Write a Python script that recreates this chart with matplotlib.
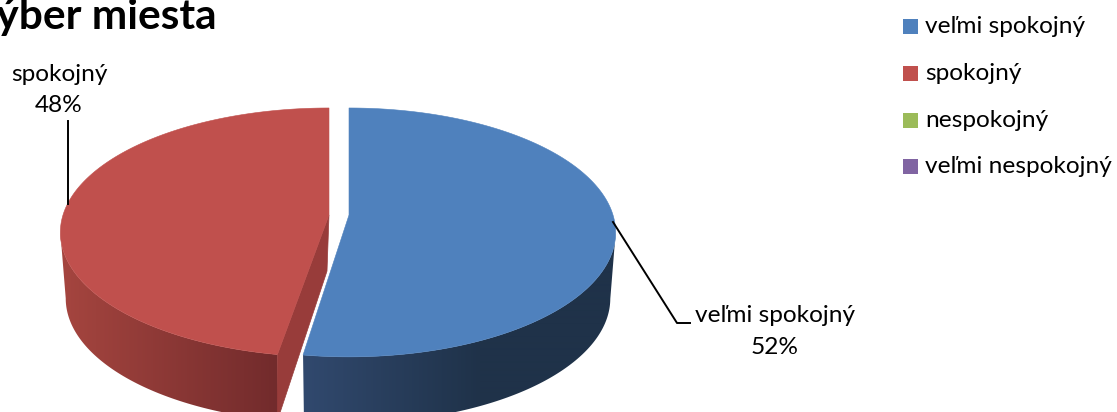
import numpy as np
import matplotlib
matplotlib.use("Agg")
import matplotlib.pyplot as plt
from matplotlib.patches import Polygon, Rectangle

plt.rcParams["font.family"] = ["Lato", "DejaVu Sans"]

# data
categories = ["veľmi spokojný", "spokojný", "nespokojný", "veľmi nespokojný"]
values = [52, 48, 0, 0]
top_colors = ["#4F81BD", "#C0504D", "#9BBB59", "#8064A2"]

# wall shading: colour at the left / right end of the x range
wall_colors = {0: ("#31496E", "#1F3249", 304, 480), 1: ("#A5453F", "#722B2C", 62, 277)}
inner_wall_color = "#983C3A"

# pie geometry in pixels
center_x = [349, 329]
radius_x = [264, 266]
warp = [0.10, 0.17]
center_y = 215
radius_y = 122
persp = 0.14
depth = 66
bottom_scale = 0.98


def project(i, t, lower=False):
    """Map pie angles (clockwise from top) to picture coordinates."""
    t = t + warp[i] * np.sin(2 * t)
    u, v = np.sin(t), np.cos(t)
    w = 1 + persp * v
    scale = bottom_scale if lower else 1.0
    x = center_x[i] + scale * radius_x[i] * u / w
    y = center_y - radius_y * v / w + (depth if lower else 0)
    return x, y


fig = plt.figure(figsize=(11.17, 4.12), dpi=100)
ax = fig.add_axes([0, 0, 1, 1])

total = sum(values)
edges = np.concatenate([[0], np.cumsum(values)]) / total * 2 * np.pi

# red first, blue in front of it
for i in [1, 0]:
    t = np.linspace(edges[i], edges[i + 1], 240)
    cx = center_x[i]
    xt, yt = project(i, t)
    xb, yb = project(i, t, lower=True)

    if i == 1:
        # the cut face seen through the gap
        ax.add_patch(Polygon([(cx, center_y), (xt[0], yt[0]), (xt[0], yt[0] + depth),
                              (cx - 2, center_y + depth * 0.85)],
                             closed=True, fc=inner_wall_color, ec=inner_wall_color, lw=0.5))

    # only the front part of the rim has a visible wall
    if i == 0:
        front = np.arange(np.argmax(xt), len(t))
    else:
        front = np.arange(0, np.argmin(xt) + 1)

    # outer wall: horizontal gradient clipped to the wall outline
    c0, c1, x_left, x_right = wall_colors[i]
    wall = Polygon(np.column_stack([np.r_[xt[front], xb[front][::-1]], np.r_[yt[front], yb[front][::-1]]]),
                   closed=True, fc="none", ec="none", transform=ax.transData)
    ax.add_patch(wall)
    a = np.array(matplotlib.colors.to_rgb(c0))
    b = np.array(matplotlib.colors.to_rgb(c1))
    col_x = np.arange(0, 1117)
    f = np.clip((col_x - x_left) / (x_right - x_left), 0, 1)[None, :, None]
    im = ax.imshow(a + (b - a) * f, extent=(0, 1117, 412, 0), aspect="auto", interpolation="bilinear")
    im.set_clip_path(wall)

    ax.add_patch(Polygon(np.column_stack([np.r_[cx, xt], np.r_[center_y, yt]]),
                         closed=True, fc=top_colors[i], ec=top_colors[i], lw=0.4))

ax.set_xlim(0, 1117)
ax.set_ylim(412, 0)
ax.axis("off")

# leader lines
ax.plot([613, 677, 690], [222, 323, 323], color="black", lw=1.4, solid_joinstyle="round")
ax.plot([68, 68], [121, 204], color="black", lw=1.4)

# data labels
label_size = 17.6
ax.text(775, 316, categories[0], ha="center", va="center", fontsize=label_size)
ax.text(775, 347, f"{values[0]}%", ha="center", va="center", fontsize=label_size)
ax.text(59, 74, categories[1], ha="center", va="center", fontsize=label_size)
ax.text(59, 105, f"{values[1]}%", ha="center", va="center", fontsize=label_size)

# title runs off the left edge in the original
ax.text(217, 29, "Výber miesta", ha="right", va="baseline", fontsize=30.5, fontweight="bold")

# legend
legend_y = [26.5, 73.5, 120, 166.5]
for name, col, y in zip(categories, top_colors, legend_y):
    ax.add_patch(Rectangle((903, y - 7.5), 15, 15, fc=col, ec="none"))
    ax.text(925, y, name, ha="left", va="center", fontsize=label_size)

fig.savefig("out.png", dpi=100)
